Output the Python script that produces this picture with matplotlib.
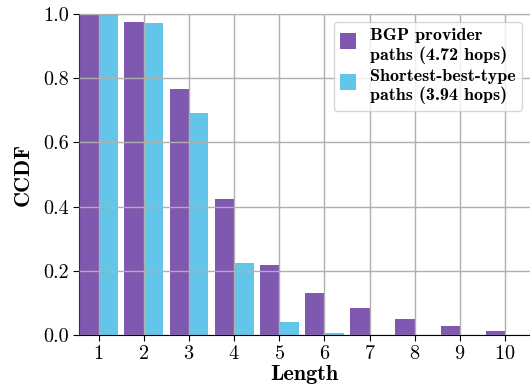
import numpy as np
import matplotlib
matplotlib.use("Agg")
import matplotlib.pyplot as plt
from matplotlib.patches import Rectangle
from matplotlib.legend_handler import HandlerPatch
from matplotlib.container import BarContainer

lengths = [1, 2, 3, 4, 5, 6, 7, 8, 9, 10]
bgp = [1.0, 0.975, 0.766, 0.424, 0.217, 0.131, 0.084, 0.050, 0.028, 0.012]
shortest = [1.0, 0.972, 0.692, 0.224, 0.040, 0.006, 0.0, 0.0, 0.0, 0.0]
labels = ["BGP provider\npaths (4.72 hops)", "Shortest-best-type\npaths (3.94 hops)"]

plt.rcParams['font.family'] = ['cmr10', 'DejaVu Serif']
plt.rcParams['axes.formatter.use_mathtext'] = True

fig = plt.figure(figsize=(5.3, 3.88), dpi=100)
ax = fig.add_axes([79 / 530, 53 / 388, 451 / 530, 321 / 388])

x = np.array(lengths)
w = 0.43
ax.bar(x - w / 2, bgp, w, color='#7F58AF', label=labels[0])
ax.bar(x + w / 2, shortest, w, color='#63C5EA', label=labels[1])

ax.set_xlim(0.566, 10.55)
ax.set_ylim(0, 1.0)
ax.set_xticks(lengths)
ax.set_yticks([0, 0.2, 0.4, 0.6, 0.8, 1.0])
ax.set_yticklabels(["0.0", "0.2", "0.4", "0.6", "0.8", "1.0"])
ax.grid(True, color='#b0b0b0', linewidth=1.0)
ax.set_axisbelow(False)
ax.tick_params(labelsize=14.5, length=4)

ax.spines['right'].set_visible(False)
ax.spines['top'].set_color('#555555')
ax.spines['left'].set_color('#333333')
ax.spines['bottom'].set_color('black')

ax.set_xlabel("Length", family='cmb10', fontsize=16, labelpad=1)
ax.set_ylabel("CCDF", family='cmb10', fontsize=16, labelpad=7)


# square marker next to the first line of each two-line label
def top_square(legend, orig_handle, xdescent, ydescent, width, height, fontsize):
    side = 0.9 * fontsize
    return Rectangle((-xdescent, -ydescent + height - side * 1.05), width, side)


def copy_first_bar(tgt, src):
    tgt.update_from(src.patches[0])


leg = ax.legend(loc='upper right', prop={'family': 'cmb10', 'size': 13},
                handlelength=0.9, handleheight=2.0, handletextpad=0.75,
                labelspacing=0.3, borderaxespad=0.45, borderpad=0.35,
                fancybox=True,
                handler_map={BarContainer: HandlerPatch(patch_func=top_square,
                                                        update_func=copy_first_bar)})
leg.get_frame().set_edgecolor('#cccccc')

fig.savefig("out.png", dpi=100)
